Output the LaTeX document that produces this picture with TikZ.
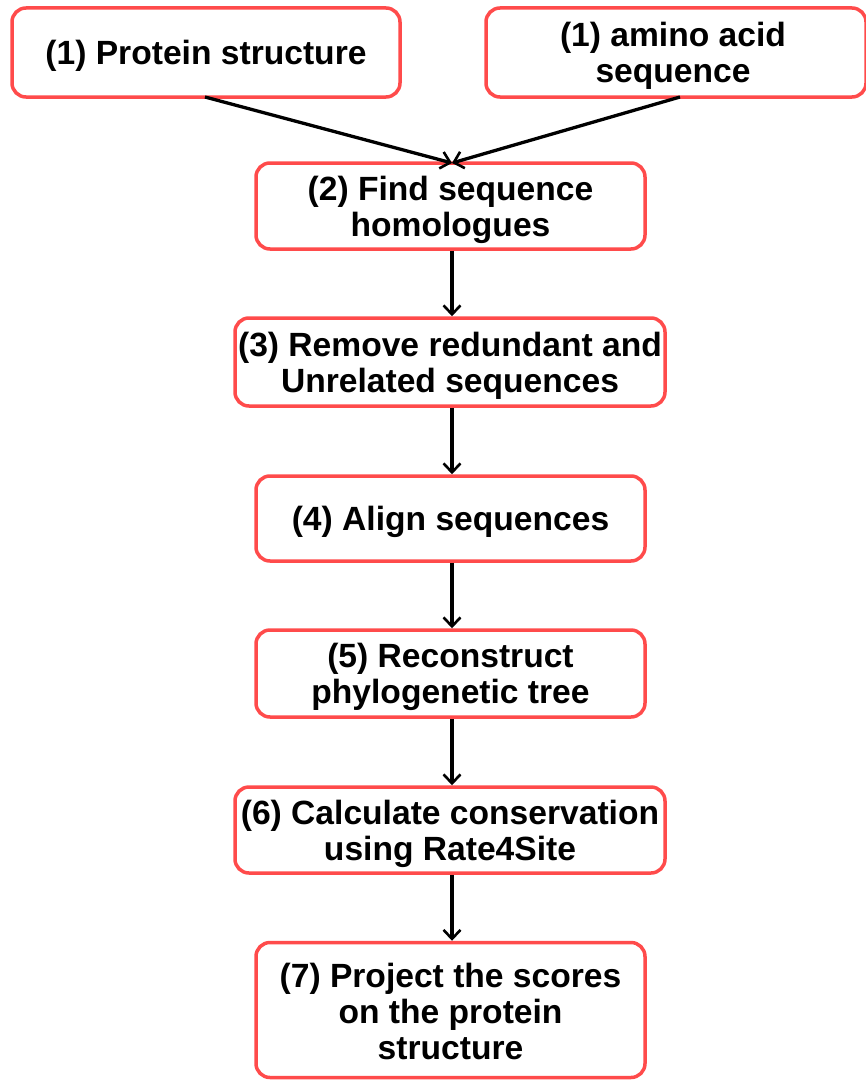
\documentclass[tikz,border=0pt]{standalone}
\usepackage{fontspec}
\setmainfont{Liberation Sans}
\usetikzlibrary{arrows.meta}
\definecolor{boxred}{HTML}{FF4B4B}
\begin{document}
\begin{tikzpicture}[x=1pt,y=1pt,
  stepbox/.style={draw=boxred, line width=3.5pt, rounded corners=14pt, fill=white, inner sep=0pt},
  steptext/.style={align=center, font=\bfseries\fontsize{33.6}{36}\selectfont, inner sep=0pt, yshift=-3.5pt},
  conn/.style={line width=3.3pt, -{Straight Barb[length=9pt,width=17pt,line width=2.6pt]}}]
\useasboundingbox (0,0) rectangle (865,-1081);
\node[stepbox, minimum width=388pt, minimum height=89pt] (p1) at (206,-52.5) {};
\node[steptext] (l1) at (p1.center) {(1) Protein structure};
\node[stepbox, minimum width=380pt, minimum height=89pt] (p1b) at (676,-52.5) {};
\node[steptext] (l1b) at ([xshift=-3pt]p1b.center) {(1) amino acid\\sequence};
\node[stepbox, minimum width=389pt, minimum height=86pt] (p2) at (450.5,-206) {};
\node[steptext] (l2) at (p2.center) {(2) Find sequence\\homologues};
\node[stepbox, minimum width=430pt, minimum height=88pt] (p3) at (450,-362) {};
\node[steptext] (l3) at (p3.center) {(3) Remove redundant and\\Unrelated sequences};
\node[stepbox, minimum width=389pt, minimum height=85pt] (p4) at (450.5,-518.5) {};
\node[steptext] (l4) at (p4.center) {(4) Align sequences};
\node[stepbox, minimum width=389pt, minimum height=87pt] (p5) at (450.5,-673.5) {};
\node[steptext] (l5) at (p5.center) {(5) Reconstruct\\phylogenetic tree};
\node[stepbox, minimum width=430pt, minimum height=86pt] (p6) at (450,-830) {};
\node[steptext] (l6) at (p6.center) {(6) Calculate conservation\\using Rate4Site};
\node[stepbox, minimum width=389pt, minimum height=135pt] (p7) at (450.5,-1010) {};
\node[steptext] (l7) at ([yshift=2pt]p7.center) {(7) Project the scores\\on the protein\\structure};
\coordinate (t2) at (452,-163);
\draw[conn] (205,-97) -- (t2);
\draw[conn] (680,-97) -- (t2);
\draw[conn] (p2.south -| t2) -- (p3.north -| t2);
\draw[conn] (p3.south -| t2) -- (p4.north -| t2);
\draw[conn] (p4.south -| t2) -- (p5.north -| t2);
\draw[conn] (p5.south -| t2) -- (p6.north -| t2);
\draw[conn] (p6.south -| t2) -- (p7.north -| t2);
\end{tikzpicture}
\end{document}
